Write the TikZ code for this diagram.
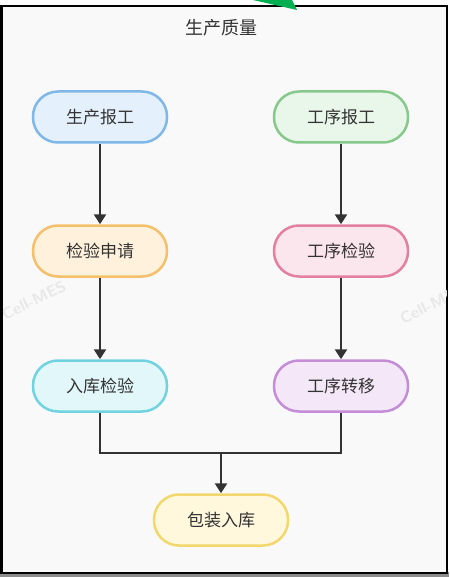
\documentclass[tikz,border=0pt]{standalone}
\usepackage{fontspec}
\newfontfamily\cjk{Noto Sans CJK SC}
\usetikzlibrary{arrows.meta}
\definecolor{txt}{HTML}{333333}
\definecolor{bgc}{HTML}{F9F9F9}
\definecolor{bluef}{HTML}{E4F1FD}\definecolor{blued}{HTML}{7FB7E6}
\definecolor{greenf}{HTML}{E9F6EA}\definecolor{greend}{HTML}{86C98A}
\definecolor{orangef}{HTML}{FFF1DB}\definecolor{oranged}{HTML}{F4C06C}
\definecolor{pinkf}{HTML}{FCE6EE}\definecolor{pinkd}{HTML}{E27FA3}
\definecolor{cyanf}{HTML}{E2F7FA}\definecolor{cyand}{HTML}{72D3E0}
\definecolor{purplef}{HTML}{F4E7F7}\definecolor{purpled}{HTML}{C58DD8}
\definecolor{yellowf}{HTML}{FFF8DD}\definecolor{yellowd}{HTML}{F1D76C}
\definecolor{arrowgreen}{HTML}{00B050}
\tikzset{
  x=1pt,y=-1pt,
  stepbox/.style={rounded corners=25pt, minimum width=134pt, minimum height=51pt, line width=2.5pt, font=\cjk\fontsize{17}{20}\selectfont, text=txt, inner sep=0pt},
  link/.style={draw=txt, line width=2.6pt, -{Triangle[length=10pt,width=12pt]}},
  plainlink/.style={draw=txt, line width=2.6pt},
  wm/.style={text=black!9, font=\sffamily\bfseries\fontsize{16}{18}\selectfont, rotate=26}
}
\begin{document}
\begin{tikzpicture}
\useasboundingbox (0,0) rectangle (449,577);
\fill[white] (0,0) rectangle (449,577);
\fill[black!45] (0,572) rectangle (449,577);
\draw[line width=2.5pt, fill=bgc] (1.5,6) rectangle (447,573);
\begin{scope}
\clip (2.5,7) rectangle (446,572);
\node[wm] (w1) at (34,300) {Cell-MES};
\node[wm] (w2) at (432,304) {Cell-MES};
\end{scope}
\fill[arrowgreen] (253,0) -- (292,0) -- (297,10) -- cycle;
\node[font=\cjk\fontsize{18}{21}\selectfont, text=txt] (title) at (221,28) {生产质量};
\node[stepbox, draw=blued, fill=bluef] (a1) at (100,117) {生产报工};
\node[stepbox, draw=greend, fill=greenf] (b1) at (341,117) {工序报工};
\node[stepbox, draw=oranged, fill=orangef] (a2) at (100,251) {检验申请};
\node[stepbox, draw=pinkd, fill=pinkf] (b2) at (341,251) {工序检验};
\node[stepbox, draw=cyand, fill=cyanf] (a3) at (100,386) {入库检验};
\node[stepbox, draw=purpled, fill=purplef] (b3) at (341,386) {工序转移};
\node[stepbox, draw=yellowd, fill=yellowf] (c) at (221,520) {包装入库};
\coordinate (m) at (221,453);
\draw[link] (a1) -- (a2);
\draw[link] (a2) -- (a3);
\draw[link] (b1) -- (b2);
\draw[link] (b2) -- (b3);
\draw[plainlink] (a3.south) |- (m);
\draw[plainlink] (b3.south) |- (m);
\draw[link] (m) -- (c);
\end{tikzpicture}
\end{document}
